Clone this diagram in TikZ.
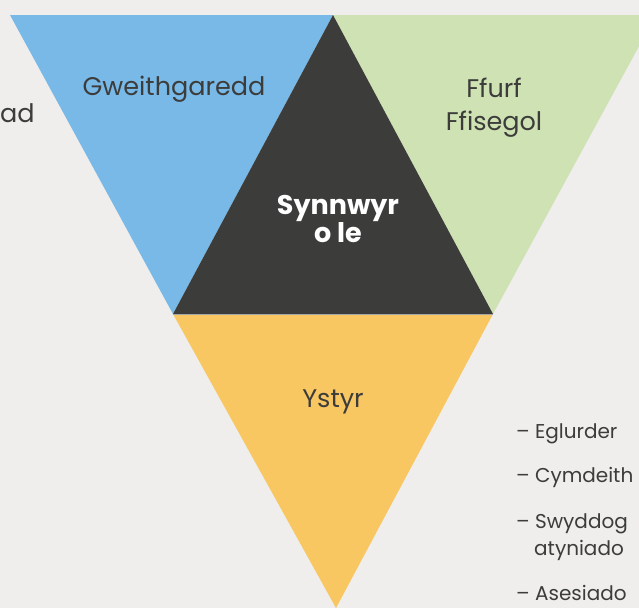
\documentclass[tikz,border=0pt]{standalone}
\usepackage{fontspec}
\setmainfont{Poppins}
\definecolor{bgcol}{HTML}{EFEEEC}
\definecolor{bluecol}{HTML}{78B9E7}
\definecolor{greencol}{HTML}{CFE2B3}
\definecolor{darkcol}{HTML}{3C3C3B}
\definecolor{yellowcol}{HTML}{F8C762}
\definecolor{textcol}{HTML}{3C3C3B}
\tikzset{
	seglabel/.style={anchor=base,text=textcol,font=\fontsize{25.5}{33}\selectfont,align=center,inner sep=0pt},
	midlabel/.style={anchor=base,text=white,font=\fontsize{27}{28}\selectfont\bfseries,align=center,inner sep=0pt},
	listitem/.style={anchor=base west,text=textcol,font=\fontsize{20}{26}\selectfont,inner sep=0pt}
}
\begin{document}
\begin{tikzpicture}[x=1pt,y=-1pt]
	\useasboundingbox (0,0) rectangle (639,608);
	\clip (0,0) rectangle (639,608);
	\fill[bgcol] (0,0) rectangle (639,608);

	% corners of the big triangle
	\coordinate (tl) at (10,15);
	\coordinate (tm) at (333,15);
	\coordinate (tr) at (656,15);
	\coordinate (ml) at (173,314);
	\coordinate (mr) at (493,314);
	\coordinate (bt) at (336,608);

	\fill[bluecol]   (tl) -- (tm) -- (ml) -- cycle;
	\fill[greencol]  (tm) -- (tr) -- (mr) -- cycle;
	\fill[darkcol]   (tm) -- (mr) -- (ml) -- cycle;
	\fill[yellowcol] (ml) -- (mr) -- (bt) -- cycle;
	\draw[line width=0.8pt,gray!70] (ml) -- (mr);

	\node[seglabel] (gw) at (174,95)  {Gweithgaredd};
	\node[seglabel] (ff) at (494,130) {Ffurf\\Ffisegol};
	\node[midlabel] (sy) at (338,242) {Synnwyr\\o le};
	\node[seglabel] (ys) at (333,407) {Ystyr};

	\node[seglabel,anchor=base west] (ad) at (0,122) {ad};

	\node[listitem] (l1) at (516,438) {– Eglurder};
	\node[listitem] (l2) at (516,482) {– Cymdeith};
	\node[listitem] (l3) at (516,528) {– Swyddog};
	\node[listitem] (l4) at (534,555) {atyniado};
	\node[listitem] (l5) at (516,600) {– Asesiado};
\end{tikzpicture}
\end{document}
